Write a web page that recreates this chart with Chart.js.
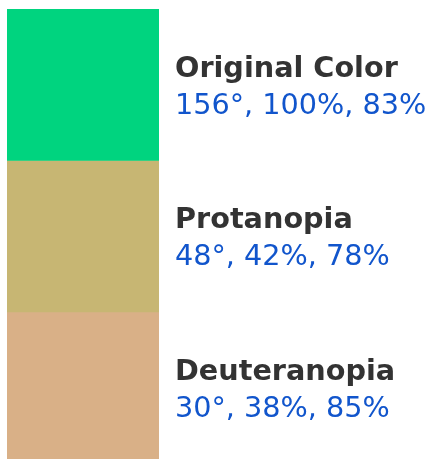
<!DOCTYPE html>
<html>
<head>
<meta charset="utf-8">
<script src="https://cdn.jsdelivr.net/npm/chart.js@4"></script>
<style>
  html, body { margin: 0; padding: 0; background: #fff; }
  #wrap { width: 429px; height: 459px; }
</style>
</head>
<body>
<div id="wrap"><canvas id="swatchChart"></canvas></div>
<script>
// swatch names and their HSV readings (hue, sat, value)
const names = ['Original Color', 'Protanopia', 'Deuteranopia'];
const hues = [156, 48, 30];
const sats = [100, 42, 38];
const vals = [83, 78, 85];
const swatchColors = ['#00d47f', '#c7b673', '#d9b087'];

function hsvText(i){
    return `${hues[i]}°, ${sats[i]}%, ${vals[i]}%`;
}

const labelPlugin = {
    id: 'swatchLabels',
    afterDatasetsDraw(chart){
        const ctx = chart.ctx;
        ctx.save();
        ctx.textAlign = 'left';
        ctx.textBaseline = 'alphabetic';
        chart.data.datasets.forEach((ds, i) => {
            const el = chart.getDatasetMeta(i).data[0];
            const mid = (el.y + el.base) / 2;
            const x = el.x + el.width / 2 + 16;
            ctx.fillStyle = '#333333';
            ctx.font = 'bold 28.7px "DejaVu Sans"';
            ctx.fillText(names[i], x, mid - 8);
            ctx.fillStyle = '#1155cc';
            ctx.font = '28.7px "DejaVu Sans"';
            ctx.fillText(hsvText(i), x, mid + 29);
        });
        ctx.restore();
    }
};

const datasets = names.map((n, i) => ({
    label: n,
    data: [1],
    backgroundColor: swatchColors[i],
    borderWidth: 0,
    barPercentage: 1,
    categoryPercentage: 1
}));

new Chart(document.getElementById('swatchChart'), {
    type: 'bar',
    data: { labels: ['swatch'], datasets: datasets },
    options: {
        responsive: true,
        maintainAspectRatio: false,
        animation: false,
        layout: { padding: { left: 7, right: 270, top: 9, bottom: 0 } },
        plugins: { legend: { display: false }, tooltip: { enabled: false } },
        scales: {
            x: { stacked: true, display: false },
            y: { stacked: true, display: false, reverse: true, min: 0, max: 2.97 }
        }
    },
    plugins: [labelPlugin]
});
</script>
</body>
</html>
